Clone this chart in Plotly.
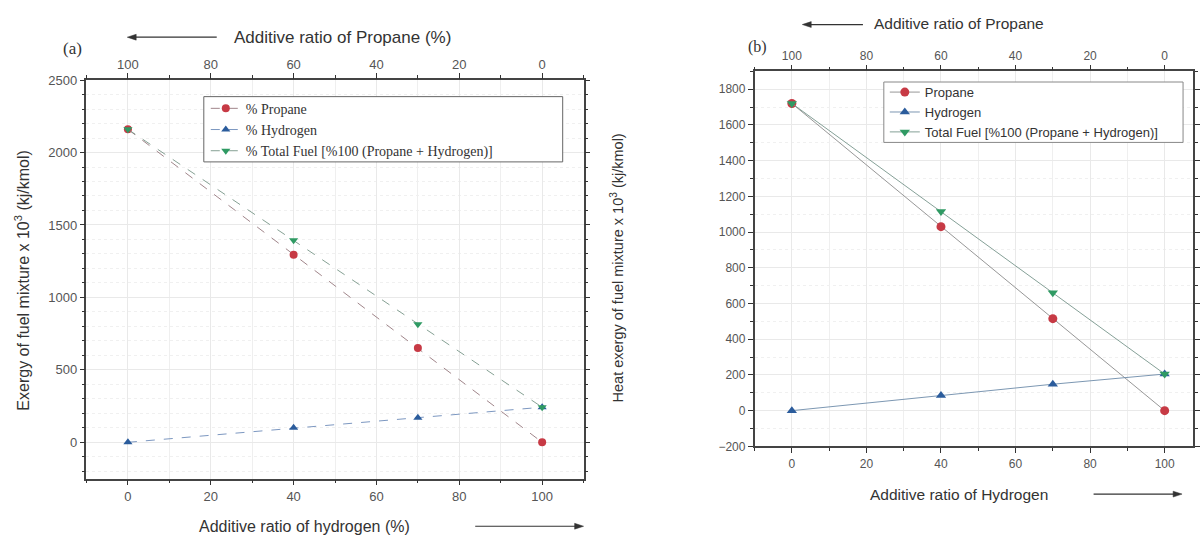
import plotly.graph_objects as go

# ---------------- data ----------------
hydrogen_ratio = [0, 40, 70, 100]          # % hydrogen (bottom axis)
propane_ratio = [100, 60, 30, 0]           # % propane (top axis)

# panel (a): exergy of fuel mixture x 10^3 (kj/kmol)
a_propane = [2160, 1295, 650, 0]
a_hydrogen = [0, 100, 170, 242]
a_total = [2160, 1395, 815, 242]

# panel (b): heat exergy of fuel mixture x 10^3 (kj/kmol)
b_propane = [1720, 1030, 515, 0]
b_hydrogen = [0, 85, 148, 205]
b_total = [1720, 1115, 660, 205]

names_a = ["% Propane", "% Hydrogen", "% Total Fuel [%100 (Propane + Hydrogen)]"]
names_b = ["Propane", "Hydrogen", "Total Fuel [%100 (Propane + Hydrogen)]"]

# ---------------- style ----------------
W, H = 1200, 543
RED, BLUE, GREEN = "#c73a45", "#2b5c9c", "#2f9a63"
SANS = "Liberation Sans, Arial, sans-serif"
SERIF = "Liberation Serif, Times New Roman, serif"
TXT = "#333333"
TICK = "#555555"

def px_x(p):
    return p / W

def px_y(p):
    return (H - p) / H

fig = go.Figure()

# panel (a) traces
series_a = [(a_propane, names_a[0], RED, "circle", "rgba(150,120,125,0.9)"),
            (a_hydrogen, names_a[1], BLUE, "triangle-up", "rgba(110,140,185,0.9)"),
            (a_total, names_a[2], GREEN, "triangle-down", "rgba(120,150,135,0.9)")]
for vals, nm, col, sym, lcol in series_a:
    fig.add_trace(go.Scatter(
        x=hydrogen_ratio, y=vals, name=nm, mode="lines+markers",
        xaxis="x", yaxis="y", legend="legend",
        line=dict(color=lcol, width=1, dash="dash"),
        marker=dict(color=col, symbol=sym, size=8),
    ))

# panel (b) traces
series_b = [(b_propane, names_b[0], RED, "circle", "rgba(140,140,140,0.9)"),
            (b_hydrogen, names_b[1], BLUE, "triangle-up", "rgba(110,140,170,0.9)"),
            (b_total, names_b[2], GREEN, "triangle-down", "rgba(120,150,140,0.9)")]
for vals, nm, col, sym, lcol in series_b:
    fig.add_trace(go.Scatter(
        x=hydrogen_ratio, y=vals, name=nm, mode="lines+markers",
        xaxis="x2", yaxis="y2", legend="legend2",
        line=dict(color=lcol, width=1),
        marker=dict(color=col, symbol=sym, size=9),
    ))

# invisible traces to carry the top (propane) axes
fig.add_trace(go.Scatter(x=propane_ratio, y=a_total, xaxis="x3", yaxis="y",
                         mode="markers", marker=dict(opacity=0), showlegend=False,
                         hoverinfo="skip"))
fig.add_trace(go.Scatter(x=propane_ratio, y=b_total, xaxis="x4", yaxis="y2",
                         mode="markers", marker=dict(opacity=0), showlegend=False,
                         hoverinfo="skip"))

# ---------------- axes ----------------
def xaxis_style(rng, dom, fs, anchor):
    return dict(
        range=rng, domain=dom, anchor=anchor, tick0=0, dtick=20,
        ticks="outside", ticklen=5, tickwidth=1, tickcolor=TXT,
        showline=True, linecolor="#444444", linewidth=1.5, mirror="ticks",
        showgrid=True, gridcolor="#e9e9e9", gridwidth=1, zeroline=False,
        minor=dict(dtick=10, tick0=0, ticks="outside", ticklen=3, tickcolor=TXT,
                   showgrid=True, gridcolor="#efefef"),
        tickfont=dict(family=SANS, size=fs, color=TICK),
    )

def yaxis_style(rng, dom, dt, fs, anchor):
    return dict(
        range=rng, domain=dom, anchor=anchor, tick0=0, dtick=dt,
        ticks="outside", ticklen=5, tickwidth=1, tickcolor=TXT,
        showline=True, linecolor="#444444", linewidth=1.5, mirror="ticks",
        showgrid=True, gridcolor="#e9e9e9", gridwidth=1, zeroline=False,
        minor=dict(dtick=100, tick0=0, ticks="outside", ticklen=3, tickcolor=TXT,
                   showgrid=True, gridcolor="#f0f0f0", griddash="dot"),
        tickfont=dict(family=SANS, size=fs, color=TICK),
    )

# panel (a) geometry
xa_rng = [-10, 110]
xa_dom = [px_x(87), px_x(587)]
ya_dom = [px_y(484), px_y(75)]
# panel (b) geometry (right frame is cut off by the picture edge)
PXU_B = 3.75
XB0 = 759
xb_rng = [-10, -10 + (W - XB0) / PXU_B]
xb_dom = [px_x(XB0), 1.0]
yb_dom = [px_y(451), px_y(66)]

top_a = dict(overlaying="x", side="top", anchor="y",
             range=[100 - xa_rng[0], 100 - xa_rng[1]], tick0=0, dtick=20,
             ticks="outside", ticklen=5, tickcolor=TXT, showgrid=False, zeroline=False,
             minor=dict(dtick=10, tick0=0, ticks="outside", ticklen=3, tickcolor=TXT),
             tickfont=dict(family=SANS, size=13, color=TICK))
top_b = dict(overlaying="x2", side="top", anchor="y2",
             range=[100 - xb_rng[0], 100 - xb_rng[1]], tick0=0, dtick=20,
             ticks="outside", ticklen=5, tickcolor=TXT, showgrid=False, zeroline=False,
             minor=dict(dtick=10, tick0=0, ticks="outside", ticklen=3, tickcolor=TXT),
             tickfont=dict(family=SANS, size=12, color=TICK))

fig.update_layout(
    width=W, height=H, autosize=False,
    margin=dict(l=0, r=0, t=0, b=0),
    paper_bgcolor="white", plot_bgcolor="white",
    font=dict(family=SANS, color=TXT),
    xaxis=xaxis_style(xa_rng, xa_dom, 13, "y"),
    yaxis=yaxis_style([-250, 2500], ya_dom, 500, 13, "x"),
    xaxis2=xaxis_style(xb_rng, xb_dom, 12, "y2"),
    yaxis2=yaxis_style([-200, 1900], yb_dom, 200, 12, "x2"),
    xaxis3=top_a,
    xaxis4=top_b,
    legend=dict(x=px_x(207), y=px_y(88), xanchor="left", yanchor="top",
                bgcolor="rgba(0,0,0,0)", borderwidth=0,
                font=dict(family=SERIF, size=14, color=TXT),
                tracegroupgap=0, itemwidth=30),
    legend2=dict(x=px_x(890), y=px_y(72), xanchor="left", yanchor="top",
                 bgcolor="rgba(0,0,0,0)", borderwidth=0,
                 font=dict(family=SANS, size=13, color=TXT),
                 tracegroupgap=0, itemwidth=30),
    showlegend=True,
)

# ---------------- legend boxes and arrows (shapes) ----------------
shapes = [
    dict(type="rect", xref="paper", yref="paper", layer="above",
         x0=px_x(205), x1=px_x(566), y0=px_y(159), y1=px_y(92),
         fillcolor="white", line=dict(color="#666666", width=1)),
    dict(type="rect", xref="paper", yref="paper", layer="above",
         x0=px_x(889), x1=px_x(1190), y0=px_y(139), y1=px_y(77),
         fillcolor="white", line=dict(color="#888888", width=1)),
]

def arrow(x_head, x_tail, y):
    d = 1 if x_tail > x_head else -1
    shapes.append(dict(type="line", xref="paper", yref="paper",
                       x0=px_x(x_tail), x1=px_x(x_head + d * 6), y0=px_y(y), y1=px_y(y),
                       line=dict(color="#333333", width=1.2)))
    path = "M {:.5f},{:.5f} L {:.5f},{:.5f} L {:.5f},{:.5f} Z".format(
        px_x(x_head), px_y(y),
        px_x(x_head + d * 9), px_y(y - 3),
        px_x(x_head + d * 9), px_y(y + 3))
    shapes.append(dict(type="path", xref="paper", yref="paper", path=path,
                       fillcolor="#333333", line=dict(color="#333333", width=0.5)))

arrow(128, 218, 31)
arrow(587, 478, 533)
arrow(807, 868, 18)
arrow(1189, 1100, 500)

# ---------------- titles and labels ----------------
ann = []
def text(x, y, t, size, family=SANS, angle=0, xanchor="center"):
    ann.append(dict(x=px_x(x), y=px_y(y), xref="paper", yref="paper", text=t,
                    showarrow=False, textangle=angle, xanchor=xanchor, yanchor="middle",
                    font=dict(family=family, size=size, color=TXT)))

# panel (a)
text(73, 43, "(a)", 17, SERIF)
text(233, 31, "Additive ratio of Propane (%)", 17, xanchor="left")
text(198, 533, "Additive ratio of hydrogen (%)", 16, xanchor="left")
text(22, 280, "Exergy of fuel mixture x 10<sup>3</sup> (kj/kmol)", 16, angle=-90)

# panel (b)
text(762, 41, "(b)", 16, SERIF)
text(877, 17, "Additive ratio of Propane", 15.5, xanchor="left")
text(873, 500, "Additive ratio of Hydrogen", 15.5, xanchor="left")
text(621, 268, "Heat exergy of fuel mixture x 10<sup>3</sup> (kj/kmol)", 14.5, angle=-90)

fig.update_layout(annotations=ann, shapes=shapes)

fig.write_html("out.html", config={"displayModeBar": False},
               post_script="document.body.style.margin='0';document.body.style.overflow='hidden';")
